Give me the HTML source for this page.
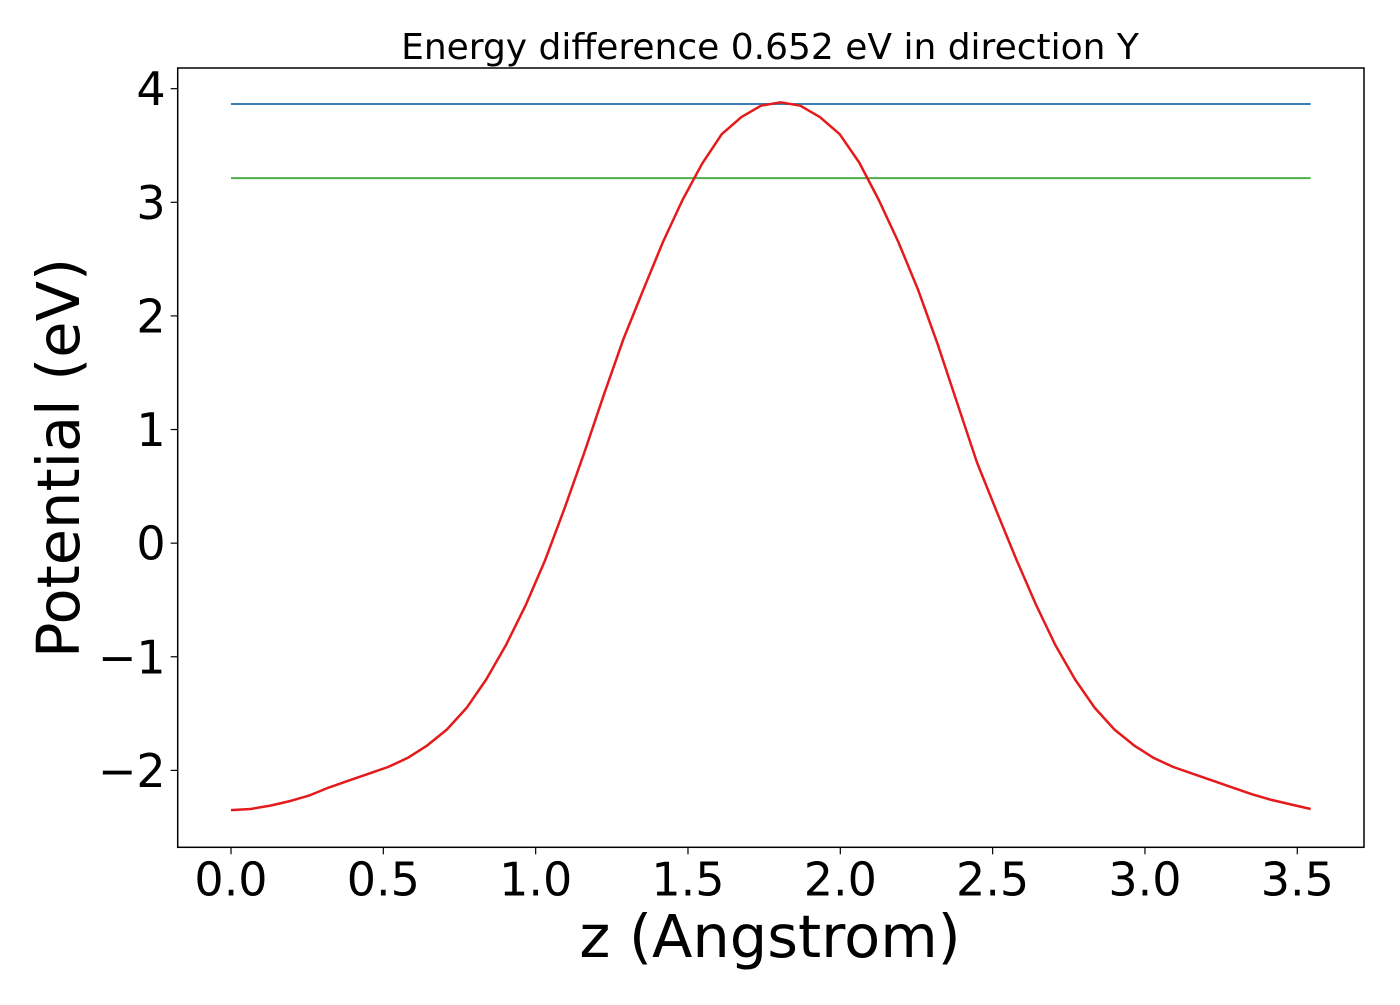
<!DOCTYPE html>
<html><head><meta charset="utf-8"><style>
body{margin:0;background:#fff;}
svg text{font-family:"DejaVu Sans","Liberation Sans",sans-serif;fill:#000;}
</style></head><body>
<svg id="chart" width="1400" height="1000" xmlns="http://www.w3.org/2000/svg">
<rect width="1400" height="1000" fill="#fff"/>
<g id="plot"></g>
</svg>
<script>
const zValues = [];
const potential = [-2.35,-2.34,-2.31,-2.27,-2.22,-2.15,-2.09,-2.03,-1.97,-1.89,-1.78,-1.64,-1.45,-1.20,-0.90,-0.55,-0.15,0.31,0.80,1.31,1.80,2.23,2.65,3.02,3.34,3.60,3.75,3.85,3.88,3.85,3.75,3.60,3.35,3.02,2.65,2.23,1.75,1.23,0.71,0.28,-0.14,-0.54,-0.90,-1.20,-1.45,-1.64,-1.78,-1.89,-1.97,-2.03,-2.09,-2.15,-2.21,-2.26,-2.30,-2.34];
const zStart = 0, zEnd = 3.544;
const levelMax = 3.865, levelMin = 3.213;
const xTicks = [0,0.5,1,1.5,2,2.5,3,3.5];
const xTickLabels = ["0.0","0.5","1.0","1.5","2.0","2.5","3.0","3.5"];
const yTicks = [-2,-1,0,1,2,3,4];
const yTickLabels = ["\u22122","\u22121","0","1","2","3","4"];

const L=177.7,R=1364,T=68,B=847.3;
const xMin=-0.175,xMax=3.719,yMin=-2.677,yMax=4.182;
const X=v=>L+(v-xMin)/(xMax-xMin)*(R-L);
const Y=v=>B-(v-yMin)/(yMax-yMin)*(B-T);
for(let i=0;i<potential.length;i++) zValues.push(zStart+(zEnd-zStart)*i/(potential.length-1));

const NS="http://www.w3.org/2000/svg";
const g=document.getElementById('plot');
function mk(tag,attrs,parent){const e=document.createElementNS(NS,tag);for(const k in attrs)e.setAttribute(k,attrs[k]);(parent||g).appendChild(e);return e;}

let e=mk('line',{x1:X(zStart),x2:X(zEnd),y1:Y(levelMax),y2:Y(levelMax),stroke:'#377eb8','stroke-width':2});


e=mk('line',{x1:X(zStart),x2:X(zEnd),y1:Y(levelMin),y2:Y(levelMin),stroke:'#4daf4a','stroke-width':2});


e=mk('polyline',{points:zValues.map((z,i)=>X(z).toFixed(1)+','+Y(potential[i]).toFixed(1)).join(' '),fill:'none',stroke:'#e41a1c','stroke-width':2.5,'stroke-linejoin':'round'});



e=mk('rect',{x:L,y:T,width:R-L,height:B-T,fill:'none',stroke:'#000','stroke-width':1.5});



xTicks.forEach((v,i)=>{
 const t=mk('line',{x1:X(v),x2:X(v),y1:B,y2:B+7,stroke:'#000','stroke-width':1.2});
 
 
 const s=mk('text',{x:X(v),y:B+48,'text-anchor':'middle','font-size':46});
 s.textContent=xTickLabels[i];
 
 
});
yTicks.forEach((v,i)=>{
 const t=mk('line',{x1:L-7,x2:L,y1:Y(v),y2:Y(v),stroke:'#000','stroke-width':1.2});
 
 
 const s=mk('text',{x:L-12,y:Y(v)+16.5,'text-anchor':'end','font-size':46});
 s.textContent=yTickLabels[i];
 
 
});
e=mk('text',{x:770,y:59,'text-anchor':'middle','font-size':36});
e.textContent='Energy difference 0.652 eV in direction Y';


e=mk('text',{x:770,y:957,'text-anchor':'middle','font-size':59});
e.textContent='z (Angstrom)';


e=mk('text',{x:0,y:0,'text-anchor':'middle','font-size':59,transform:'translate(79,458) rotate(-90)'});
e.textContent='Potential (eV)';


</script>
</body></html>
